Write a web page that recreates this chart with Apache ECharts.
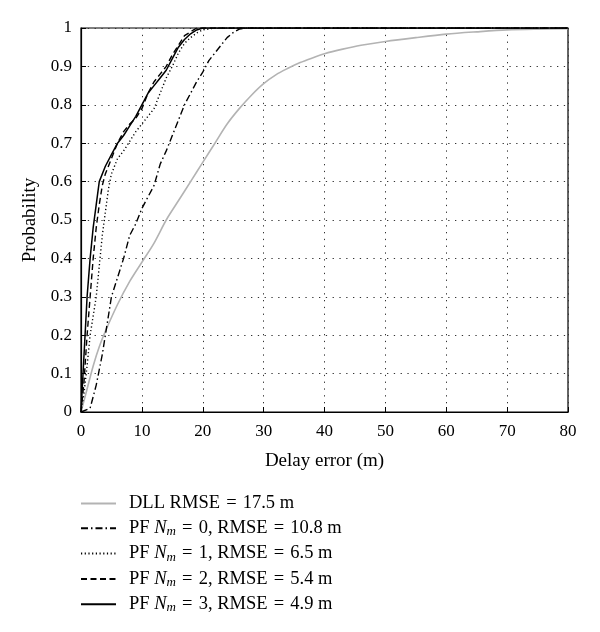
<!DOCTYPE html>
<html><head><meta charset="utf-8">
<script src="https://cdn.jsdelivr.net/npm/echarts@6/dist/echarts.min.js"></script>
<style>html,body{margin:0;padding:0;background:#fff}#c{width:600px;height:632px}</style>
</head><body><div id="c"></div>
<script>
var xTicks = [0,10,20,30,40,50,60,70,80];
var dll = [[0,0],[1,0.06],[2,0.12],[3,0.17],[4,0.21],[6,0.28],[8,0.34],[10,0.39],[12,0.44],[14,0.5],[16,0.55],[18,0.6],[20,0.65],[22,0.7],[24,0.75],[26,0.79],[28,0.825],[30,0.855],[32,0.878],[34,0.895],[36,0.91],[38,0.922],[40,0.933],[43,0.945],[46,0.955],[50,0.965],[55,0.975],[60,0.984],[65,0.99],[70,0.995],[75,0.997],[80,0.998]];
var pf0 = [[0,0],[1.5,0.01],[2.5,0.07],[3.5,0.15],[5,0.3],[6,0.35],[7,0.4],[8,0.46],[9,0.49],[10,0.53],[11,0.56],[12,0.59],[13,0.645],[14,0.68],[15,0.72],[16,0.76],[17,0.8],[18,0.83],[19,0.86],[20,0.885],[21,0.915],[22,0.935],[23,0.955],[24,0.975],[25,0.988],[26,0.997],[27,1],[80,1]];
var pf1 = [[0,0],[0.5,0.05],[1,0.12],[1.5,0.2],[2,0.25],[2.5,0.3],[3,0.38],[3.5,0.46],[4,0.52],[4.5,0.58],[5,0.62],[6,0.66],[7,0.68],[8,0.705],[9,0.73],[10,0.75],[11,0.77],[12,0.79],[13,0.83],[14,0.87],[15,0.9],[16,0.935],[17,0.96],[18,0.975],[19,0.987],[20,0.995],[22,1],[80,1]];
var pf2 = [[0,0],[0.5,0.08],[1,0.2],[1.5,0.3],[2,0.4],[2.5,0.48],[3,0.54],[3.5,0.59],[4,0.62],[5,0.66],[6,0.7],[7,0.73],[8,0.75],[9,0.765],[10,0.79],[11,0.83],[12,0.86],[13,0.88],[14,0.9],[15,0.93],[16,0.955],[17,0.98],[18,0.99],[19,1],[80,1]];
var pf3 = [[0,0],[0.5,0.15],[1,0.3],[1.5,0.4],[2,0.48],[2.5,0.54],[3,0.6],[4,0.64],[5,0.67],[6,0.7],[7,0.72],[8,0.745],[9,0.77],[10,0.8],[11,0.83],[12,0.85],[13,0.87],[14,0.89],[15,0.92],[16,0.95],[17,0.97],[18,0.985],[19,0.995],[20,1],[80,1]];
var names = ['DLL RMSE = 17.5 m','PF N_m = 0, RMSE = 10.8 m','PF N_m = 1, RMSE = 6.5 m','PF N_m = 2, RMSE = 5.4 m','PF N_m = 3, RMSE = 4.9 m'];
var font = '"Liberation Serif","DejaVu Serif",serif';
var chart = echarts.init(document.getElementById('c'));
function ser(name, data, color, type, w, sm){
  return {name:name, type:'line', data:data, symbol:'none', showSymbol:false, smooth:sm||false, animation:false,
    lineStyle:{color:color, width:w, type:type}, itemStyle:{color:color}};
}
chart.setOption({
  animation:false,
  grid:{left:81, right:32, top:28, bottom:220, show:true, borderColor:'#000', borderWidth:1.2, backgroundColor:'transparent'},
  xAxis:{type:'value', min:0, max:80, interval:10, name:'Delay error (m)', nameLocation:'middle', nameGap:40,
    nameTextStyle:{fontFamily:font, fontSize:19, color:'#000'},
    axisLine:{lineStyle:{color:'#000', width:1.2}}, axisTick:{inside:true, length:5, lineStyle:{color:'#000'}},
    axisLabel:{fontFamily:font, fontSize:17, color:'#000', margin:11},
    splitLine:{show:true, lineStyle:{color:'#333', type:[1.3,5.5], width:1}}},
  yAxis:{type:'value', min:0, max:1, interval:0.1, name:'Probability', nameLocation:'middle', nameGap:40, nameRotate:90,
    nameTextStyle:{fontFamily:font, fontSize:19, color:'#000'},
    axisLine:{lineStyle:{color:'#000', width:1.2}}, axisTick:{inside:true, length:5, lineStyle:{color:'#000'}},
    axisLabel:{fontFamily:font, fontSize:17, color:'#000', margin:9},
    splitLine:{show:true, lineStyle:{color:'#333', type:[1.3,5.5], width:1}}},
  legend:{orient:'vertical', left:75, top:489, itemWidth:35, itemHeight:10, itemGap:5.8, selectedMode:false,
    itemStyle:{opacity:0},
    data:names,
    formatter:function(n){
      var t = n.replace(/ = /g,' \u200A=\u200A ');
      if(t.indexOf('N_m')<0) return t;
      var p = t.split('N_m');
      return p[0]+'{i|N}{s|m}'+p[1];
    },
    textStyle:{fontFamily:font, fontSize:18.5, color:'#000', padding:[0,0,0,8],
      rich:{i:{fontFamily:font, fontSize:18.5, fontStyle:'italic', color:'#000'},
            s:{fontFamily:font, fontSize:13, fontStyle:'italic', color:'#000', verticalAlign:'bottom', padding:[7,0,0,0]}}}},
  series:[
    ser(names[0], dll, '#b3b3b3', 'solid', 1.6, 0.3),
    ser(names[1], pf0, '#000', [7,3,1.5,3], 1.4),
    ser(names[2], pf1, '#000', [1.2,2.5], 1.4),
    ser(names[3], pf2, '#000', [6,3.5], 1.4),
    ser(names[4], pf3, '#000', 'solid', 1.5)
  ]
});
</script></body></html>
